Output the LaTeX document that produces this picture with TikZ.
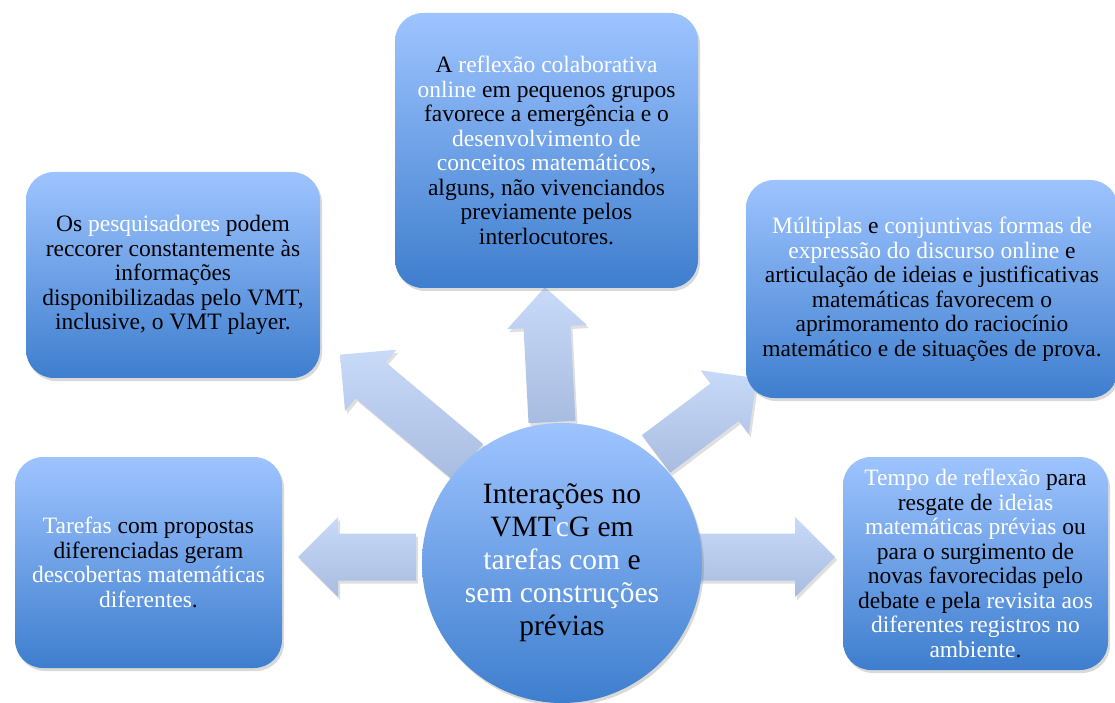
\documentclass[tikz,border=0pt]{standalone}
\usepackage{fontspec}
\setmainfont{Liberation Serif}
\usetikzlibrary{shadows}
\definecolor{boxtop}{RGB}{158,196,255}
\definecolor{boxbot}{RGB}{62,126,206}
\definecolor{arrtop}{RGB}{200,218,248}
\definecolor{arrbot}{RGB}{168,188,224}
\newcommand{\wt}[1]{\textcolor{white}{#1}}
% #1 name of tip, #2 tail, #3 angle, #4 length
\newcommand{\blockarrow}[4]{%
  \begin{scope}[shift={#2}, rotate=#3]
    \path[bigarrow] (0,-23.5) -- ({#4-40},-23.5) -- ({#4-40},-40) -- (#4,0)
      -- ({#4-40},40) -- ({#4-40},23.5) -- (0,23.5) -- cycle;
    \coordinate (#1) at (#4,0);
  \end{scope}}

\begin{document}
\begin{tikzpicture}[x=1pt, y=1pt]
  \tikzstyle{every node}=[font=\fontsize{23.5}{24.5}\selectfont, align=center, inner sep=0pt]
  \tikzstyle{idea}=[rounded corners=28pt, top color=boxtop, bottom color=boxbot,
    drop shadow={opacity=.3, shadow xshift=2pt, shadow yshift=-3pt}]
  \tikzstyle{hub}=[circle, top color=boxtop, bottom color=boxbot, minimum size=280pt,
    font=\fontsize{29.5}{33}\selectfont,
    drop shadow={opacity=.3, shadow xshift=2pt, shadow yshift=-3pt}]
  \tikzstyle{bigarrow}=[top color=arrtop, bottom color=arrbot,
    drop shadow={opacity=.25, shadow xshift=2pt, shadow yshift=-3pt}]
  \useasboundingbox (0,0) rectangle (1115,702);

  \blockarrow{tup}{(552,280)}{93}{135}
  \blockarrow{tul}{(468,240)}{140}{167}
  \blockarrow{tur}{(656,248)}{37}{126}
  \blockarrow{tl}{(416,145)}{180}{118}
  \blockarrow{tr}{(698,145)}{0}{137}

  \node[hub] (hub) at (562,139) {Interações no\\ VMT\wt{c}G em\\ \wt{tarefas com} e\\
    \wt{sem construções}\\ prévias};

  \node[idea, minimum width=303pt, minimum height=275pt] (refl) at (546.5,551.5)
    {A \wt{reflexão colaborativa}\\ \wt{online} em pequenos grupos\\
     favorece a emergência e o\\ \wt{desenvolvimento de}\\
     \wt{conceitos matemáticos},\\ alguns, não vivenciandos\\
     previamente pelos\\ interlocutores.};
  \node[idea, minimum width=294pt, minimum height=206pt] (pesq) at (173,427)
    {Os \wt{pesquisadores} podem\\ reccorer constantemente às\\ informações\\
     disponibilizadas pelo VMT,\\ inclusive, o VMT player.};
  \node[idea, minimum width=372pt, minimum height=218pt] (mult) at (932,413)
    {\wt{Múltiplas} e \wt{conjuntivas formas de}\\ \wt{expressão do discurso online} e\\
     articulação de ideias e justificativas\\ matemáticas favorecem o\\
     aprimoramento do raciocínio\\ matemático e de situações de prova.};
  \node[idea, minimum width=267pt, minimum height=211pt] (taref) at (148.5,139.5)
    {\wt{Tarefas} com propostas\\ diferenciadas geram\\
     \wt{descobertas matemáticas}\\ \wt{diferentes}.};
  \node[idea, minimum width=265pt, minimum height=213pt] (tempo) at (975.5,138.5)
    {\wt{Tempo de reflexão} para\\ resgate de \wt{ideias}\\
     \wt{matemáticas prévias} ou\\ para o surgimento de\\
     novas favorecidas pelo\\ debate e pela \wt{revisita aos}\\
     \wt{diferentes registros no}\\ \wt{ambiente}.};
\end{tikzpicture}
\end{document}
